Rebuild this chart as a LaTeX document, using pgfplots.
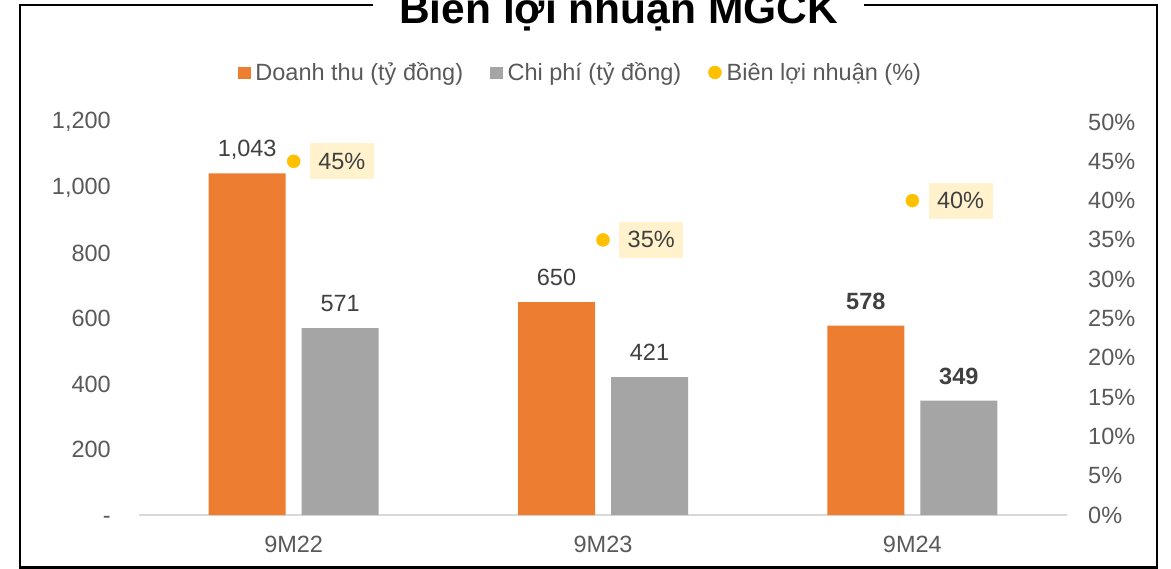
\documentclass[border=0pt]{standalone}
\usepackage{pgfplots}
\pgfplotsset{compat=1.18}
\usepackage{fontspec}
\setmainfont{Liberation Sans}

\definecolor{cOrange}{HTML}{ED7D31}
\definecolor{cGray}{HTML}{A5A5A5}
\definecolor{cYellow}{HTML}{FFC000}
\definecolor{cBox}{HTML}{FFF2CC}
\definecolor{cText}{HTML}{595959}
\definecolor{cLabel}{HTML}{404040}
\definecolor{cBase}{HTML}{D9D9D9}

\newcommand{\chartfont}{\fontsize{23.5bp}{28bp}\selectfont}
\newcommand{\titlefont}{\fontsize{42.5bp}{50bp}\selectfont\bfseries}

% revenue / cost (ty dong)
\pgfplotstableread{
x y lab
0 1043 {1,043}
1 650 650
2 578 {\textbf{578}}
}\revenue
\pgfplotstableread{
x y lab
0 571 571
1 421 421
2 349 {\textbf{349}}
}\cost

\pgfplotsset{
  base/.style={
    at={(139bp,-515bp)}, anchor=south west,
    width=928bp, height=393bp, scale only axis,
    xmin=-0.5, xmax=2.5,
    axis line style={draw=none},
    major tick length=0pt,
    ticklabel style={font=\chartfont, text=cText},
    /pgf/number format/assume math mode=true,
  },
}

\begin{document}
\begin{tikzpicture}[x=1bp,y=1bp]
\useasboundingbox (0,0) rectangle (1171,-569);
\draw[line width=2.5bp, black] (20,-5) rectangle (1157,-567.5);

\begin{axis}[base,
  ymin=0, ymax=1200,
  xtick={0,1,2}, xticklabels={9M22,9M23,9M24},
  xticklabel style={anchor=base, inner sep=0pt, yshift=-37bp},
  ytick={0,200,...,1200},
  yticklabels={{\vphantom{0}-\hspace{13bp}},200,400,600,800,{1,000},{1,200}},
  yticklabel style={anchor=east, inner sep=0pt, xshift=-28bp},
  nodes near coords,
  point meta=explicit symbolic,
  every node near coord/.append style={anchor=base, yshift=16.5bp, inner sep=0pt, font=\chartfont, text=cLabel},
]
\draw[cBase, line width=1.5bp] (rel axis cs:0,0) -- (rel axis cs:1,0);
\addplot[ybar, bar width=77bp, bar shift=-46.5bp, fill=cOrange, draw=none,
  every node near coord/.append style={xshift=-46.5bp}]
  table[x=x, y=y, meta=lab] {\revenue};
\addplot[ybar, bar width=77bp, bar shift=46.5bp, fill=cGray, draw=none,
  every node near coord/.append style={xshift=46.5bp}]
  table[x=x, y=y, meta=lab] {\cost};
\end{axis}

\begin{axis}[base,
  ymin=0, ymax=50,
  xtick=\empty,
  ytick={0,5,...,50},
  yticklabel pos=right,
  yticklabel={\pgfmathprintnumber{\tick}\%},
  yticklabel style={anchor=west, inner sep=0pt, xshift=21bp},
  legend style={at={(axis description cs:0.1067,1.126)}, anchor=west,
    draw=none, fill=none, inner sep=0pt, outer sep=0pt,
    font=\chartfont, text=cText, legend columns=3,
    nodes={inner sep=0pt},
    /tikz/every odd column/.style={column sep=5bp},
    /tikz/every even column/.style={column sep=27bp}},
  legend cell align=left,
]
\addlegendimage{legend image code/.code={\fill[cOrange] (0,-5.5bp) rectangle (12bp,5.5bp);}}
\addlegendentry{Doanh thu (tỷ đồng)}
\addlegendimage{legend image code/.code={\fill[cGray] (0,-5.5bp) rectangle (12bp,5.5bp);}}
\addlegendentry{Chi phí (tỷ đồng)}
\addplot[only marks, mark=*, mark size=6.5bp, color=cYellow,
  legend image code/.code={\fill[cYellow] (6bp,0) circle (6.5bp);},
  point meta=y,
  nodes near coords={\pgfmathprintnumber{\pgfplotspointmeta}\%},
  every node near coord/.append style={anchor=west, xshift=16bp, fill=cBox,
    minimum width=64bp, minimum height=36bp, inner sep=0pt,
    font=\chartfont, text=cLabel}]
  coordinates {(0,45) (1,35) (2,40)};
\addlegendentry{Biên lợi nhuận (\%)}
\end{axis}

\node[fill=white, inner xsep=26bp, inner ysep=3bp, anchor=base, font=\titlefont] at (618.5,-24) {Biên lợi nhuận MGCK};
\end{tikzpicture}
\end{document}
